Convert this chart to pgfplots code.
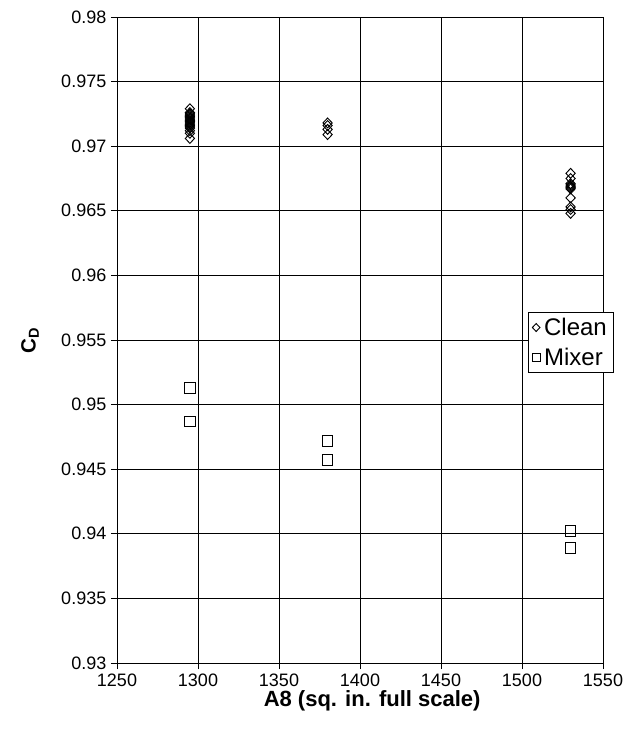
\documentclass[border=0pt]{standalone}
\usepackage{pgfplots}
\pgfplotsset{compat=1.18}
\usepackage{fontspec}
\setmainfont{Liberation Sans}
\begin{document}
\begin{tikzpicture}
\begin{axis}[
  scale only axis,
  width=364.5pt, height=484.5pt,
  xmin=1250, xmax=1550, ymin=0.93, ymax=0.98,
  xtick={1250,1300,...,1550},
  ytick={0.93,0.935,...,0.981},
  /pgf/number format/assume math mode=true,
  xticklabel style={/pgf/number format/1000 sep={}},
  yticklabel style={/pgf/number format/fixed,/pgf/number format/precision=3},
  tick label style={font=\fontsize{13.5}{15}\selectfont},
  grid=major,
  major grid style={black, line width=0.6pt},
  axis line style={black, line width=0.7pt},
  tick style={black, line width=0.6pt},
  tick align=outside,
  major tick length=4.5pt,
  xtick pos=bottom, ytick pos=left,
  xlabel={\textbf{A8 (sq. in. full scale)}},
  ylabel={\textbf{C\textsubscript{D}}},
  label style={font=\fontsize{16.5}{18}\selectfont},
  xlabel style={at={(axis description cs:0.525,-0.0588)}, anchor=center},
  ylabel style={at={(axis description cs:-0.179,0.5)}, anchor=center, font=\fontsize{15.5}{18}\selectfont},
  legend style={at={(rel axis cs:1.0226,0.5433)}, anchor=north east, draw=black, line width=0.7pt, font=\fontsize{18}{20}\selectfont, inner xsep=3pt, inner ysep=2pt, row sep=4pt, legend cell align=left,
    /tikz/every odd column/.append style={column sep=1pt}},
  legend image code/.code={\draw[mark repeat=2,mark phase=2,#1] plot coordinates {(0cm,0cm) (0.3cm,0cm) (0.6cm,0cm)};},
  legend image post style={line width=0.7pt, mark size=3pt},
]
\addplot[only marks, mark=diamond, mark size=3.7pt, mark options={black, line width=0.7pt, fill=white, xscale=1.25}] coordinates {
(1295,0.9706) (1295,0.9710) (1295,0.9712) (1295,0.9714) (1295,0.9715) (1295,0.9716)
(1295,0.9717) (1295,0.9718) (1295,0.9719) (1295,0.9720) (1295,0.9721) (1295,0.9722)
(1295,0.9723) (1295,0.9724) (1295,0.9725) (1295,0.9726) (1295,0.9729)
(1380,0.9709) (1380,0.9713) (1380,0.9716) (1380,0.9718)
(1530,0.9648) (1530,0.9651) (1530,0.9653) (1530,0.9660) (1530,0.9667) (1530,0.9668)
(1530,0.9669) (1530,0.9670) (1530,0.9671) (1530,0.9675) (1530,0.9679)
};
\addlegendentry{Clean}
\addplot[only marks, mark=square, mark size=4pt, mark options={black, line width=0.7pt}] coordinates {
(1295,0.9513) (1295,0.9487)
(1380,0.9472) (1380,0.9457)
(1530,0.9402) (1530,0.9389)
};
\addlegendentry{Mixer}
\end{axis}
\path (current axis.south west) ++(-87.75pt,-59.25pt) rectangle ++(468.75pt,556.5pt);
\end{tikzpicture}
\end{document}
